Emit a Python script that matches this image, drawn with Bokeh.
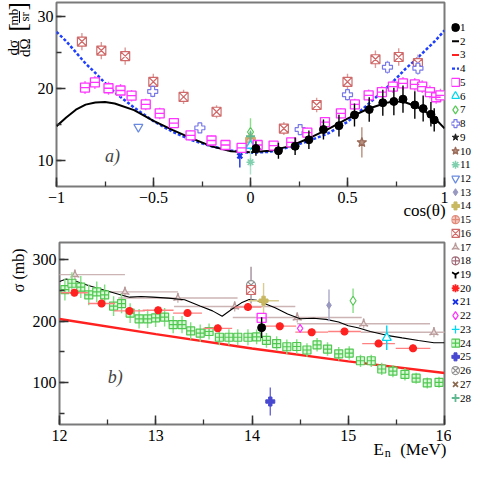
import math
from bokeh.plotting import figure
from bokeh.models import Range1d, Label, SingleIntervalTicker, FixedTicker, LinearAxis
from bokeh.layouts import row, column
from bokeh.embed import file_html
from bokeh.resources import INLINE
from bokeh.core.properties import value

FONT = "Liberation Serif"

# ---------------- a) angular distribution dsigma/dOmega vs cos(theta) ----------------
a_cos_1 = [0.028, 0.144, 0.230, 0.301, 0.376, 0.456, 0.536, 0.612, 0.682, 0.739, 0.786, 0.847, 0.890, 0.930, 0.947]
a_val_1 = [11.61, 11.29, 11.92, 12.82, 14.24, 14.78, 16.26, 17.02, 17.96, 18.14, 18.46, 17.65, 17.15, 16.35, 15.58]
a_err_1 = [1.0, 1.1, 1.2, 1.3, 1.4, 1.5, 1.6, 1.7, 1.8, 1.9, 1.9, 1.9, 1.8, 1.7, 1.6]

a_cos_5 = [-0.853, -0.802, -0.732, -0.670, -0.613, -0.540, -0.468, -0.395, -0.309, -0.201,
           -0.129, -0.046, 0.037, 0.119, 0.210, 0.293, 0.384, 0.466, 0.538, 0.609,
           0.677, 0.734, 0.786, 0.847, 0.885, 0.925, 0.957, 0.979]
a_val_5 = [20.07, 20.78, 19.97, 19.66, 18.94, 17.73, 16.48, 15.14, 13.44, 12.72,
           12.09, 11.69, 12.09, 12.01, 12.46, 13.80, 15.28, 16.48, 17.73, 18.99,
           19.44, 20.20, 20.64, 20.50, 20.20, 19.44, 18.72, 18.99]
a_err_5 = [0.9, 0.9, 0.9, 0.9, 0.8, 0.8, 0.8, 0.7, 0.7, 0.7,
           0.6, 0.6, 0.6, 0.6, 0.6, 0.7, 0.7, 0.7, 0.8, 0.8,
           0.8, 0.9, 0.9, 0.9, 0.9, 0.9, 0.9, 0.9]

a_cos_16 = [-0.869, -0.769, -0.646, -0.501, -0.345, -0.175, 0.0, 0.172, 0.341, 0.500, 0.644, 0.764, 0.863]
a_val_16 = [26.46, 25.21, 24.44, 20.87, 18.77, 16.71, 12.5, 14.38, 17.65, 20.87, 24.00, 24.31, 23.46]
a_err_16 = [1.2, 1.2, 1.2, 1.1, 1.0, 0.9, 0.8, 0.9, 1.0, 1.1, 1.2, 1.2, 1.2]

a_cos_8 = [-0.504, -0.261, 0.256, 0.500, 0.706, 0.863]
a_val_8 = [19.53, 14.47, 14.24, 19.08, 22.89, 22.75]
a_err_8 = [0.8, 0.7, 0.7, 0.8, 0.9, 0.9]

a_cos_6, a_val_6, a_err_6 = [0.0], [12.0], [0.6]
a_cos_7, a_val_7, a_err_7 = [0.0], [13.9], [1.9]
a_cos_10, a_val_10, a_err_10 = [0.574], [12.46], [2.1]
a_cos_11, a_val_11, a_err_11 = [0.0], [9.7], [1.7]
a_cos_12, a_val_12, a_err_12 = [-0.578], [14.6], [0.0]
a_cos_14, a_val_14, a_err_14 = [0.0], [12.9], [1.0]
a_cos_15, a_val_15, a_err_15 = [0.0], [12.5], [0.7]
a_cos_21, a_val_21, a_err_21 = [-0.055], [10.58], [1.6]
a_cos_28, a_val_28, a_err_28 = [0.0], [13.3], [0.8]

a_curve_cos = [-1.0, -0.95, -0.9, -0.85, -0.8, -0.75, -0.7, -0.6, -0.5, -0.4, -0.3, -0.2, -0.1, 0.0,
               0.1, 0.2, 0.3, 0.4, 0.5, 0.6, 0.7, 0.75, 0.8, 0.85, 0.9, 0.95, 1.0]
a_curve_2 = [14.7, 15.9, 17.0, 17.7, 18.0, 18.05, 17.85, 16.93, 15.45, 14.15, 12.98, 11.9, 11.23, 11.1,
             11.3, 11.9, 13.0, 14.3, 15.75, 17.06, 17.95, 18.15, 18.0, 17.5, 16.75, 15.8, 14.4]
a_curve_4 = [27.8, 26.5, 24.96, 23.4, 22.1, 20.7, 19.4, 17.29, 15.4, 13.9, 12.75, 11.9, 11.33, 11.0,
             11.15, 11.8, 12.65, 13.7, 15.3, 17.6, 20.0, 21.3, 22.7, 23.9, 25.2, 26.5, 28.0]

# ---------------- b) cross section vs neutron energy ----------------
b_curve_E = [12.0, 12.07, 12.17, 12.30, 12.47, 12.64, 12.73, 12.85, 12.97, 13.13, 13.30, 13.46, 13.59,
             13.69, 13.79, 13.89, 13.97, 14.05, 14.11, 14.24, 14.37, 14.50, 14.64, 14.77, 14.90, 15.0,
             15.10, 15.23, 15.40, 15.56, 15.73, 15.89, 16.0]
b_curve_2 = [265.0, 268.9, 265.1, 258.4, 250.7, 242.9, 239.3, 240.5, 239.3, 237.7, 235.1, 224.7, 216.9,
             208.2, 219.5, 230.0, 235.5, 234.0, 230.0, 222.2, 211.7, 204.0, 205.0, 203.0, 198.8, 192.6,
             189.5, 183.3, 177.0, 172.8, 168.6, 165.0, 165.0]
b_line_E = [12.0, 13.0, 14.0, 15.0, 16.0]
b_line_3 = [203.5, 179.0, 155.5, 134.5, 115.7]

b_E_24 = [12.056, 12.129, 12.221, 12.304, 12.387, 12.469, 12.562, 12.645, 12.734, 12.827,
          12.916, 12.999, 13.092, 13.181, 13.273, 13.363, 13.462, 13.554, 13.661, 13.760,
          13.852, 13.958, 14.048, 14.150, 14.256, 14.362, 14.465, 14.571, 14.676, 14.785,
          14.901, 15.010, 15.127, 15.239, 15.348, 15.464, 15.589, 15.705, 15.821, 15.943]
b_val_24 = [251.7, 262.0, 255.8, 242.9, 248.0, 242.9, 224.7, 228.9, 213.3, 204.0,
            204.0, 205.5, 206.6, 194.6, 194.6, 184.2, 180.6, 183.3, 173.9, 173.9,
            173.9, 173.9, 174.4, 168.7, 163.5, 158.4, 158.8, 153.1, 161.5, 154.6,
            146.9, 148.0, 135.5, 135.5, 122.1, 118.5, 113.3, 107.1, 99.3, 100.3]
b_err_24 = [18, 18, 18, 17, 17, 17, 16, 16, 16, 16,
            15, 15, 15, 14, 14, 14, 14, 13, 13, 13,
            13, 13, 12, 12, 12, 12, 12, 11, 11, 11,
            11, 11, 10, 10, 10, 10, 10, 9, 9, 9]

b_E_20 = [12.155, 12.437, 12.727, 13.025, 13.33, 13.644, 13.958, 14.289, 14.62, 14.961, 15.315, 15.673]
b_val_20 = [246.5, 228.9, 216.9, 218.0, 213.3, 188.4, 223.1, 192.0, 182.2, 183.3, 163.5, 155.8]
b_xerr_20 = [0.14, 0.14, 0.16, 0.16, 0.15, 0.15, 0.14, 0.17, 0.17, 0.17, 0.17, 0.18]
b_err_20 = [4, 4, 4, 4, 4, 4, 4, 4, 4, 4, 4, 4]

b_E_17 = [12.16, 12.68, 13.23, 13.82, 14.47, 15.16, 15.89]
b_val_17 = [276.0, 248.0, 238.0, 224.0, 206.0, 196.0, 182.0]
b_xerr_17 = [0.52, 0.55, 0.62, 0.63, 0.67, 0.69, 0.76]
b_err_17 = [8, 8, 8, 8, 8, 8, 8]

b_E_1, b_val_1, b_err_1 = [14.1], [189.5], [17]
b_E_5, b_val_5, b_err_5 = [14.1], [205.5], [6]
b_E_6, b_val_6, b_err_6 = [15.4], [173.0], [20]
b_E_7, b_val_7, b_err_7 = [15.05], [233.5], [20]
b_E_13, b_val_13, b_err_13 = [14.8], [226.0], [26]
b_E_14, b_val_14, b_err_14, b_xerr_14 = [14.12], [233.5], [29], [0.16]
b_E_16, b_val_16, b_err_16 = [13.99], [251.0], [8]
b_E_26, b_val_26, b_err_26 = [13.99], [259.0], [30]
b_E_22, b_val_22, b_err_22 = [14.5], [188.4], [4]
b_E_25, b_val_25, b_err_25 = [14.19], [69.0], [23]

legend_ids = list(range(1, 29))

# ---------------- styles ----------------
STYLE = {
    1: dict(marker="circle", size=8, line="black", fill="black", lw=1, err="black"),
    5: dict(marker="square", size=9, line="#ff33ff", fill="white", lw=1.3, err="#ff66ff", dash=True),
    6: dict(marker="triangle", size=9, line="#00d8f0", fill="white", lw=1.3, err="#00d8f0"),
    7: dict(marker="diamond", size=9, line="#55c855", fill="white", lw=1.2, err="#88dd88"),
    8: dict(marker="plus", size=10, line="#7878e8", fill="white", lw=1.2, err="#a8a8f0"),
    9: dict(marker="star", size=7, line="#222222", fill="#222222", lw=1, err="#222222"),
    10: dict(marker="star", size=10, line="#9a6a58", fill="#b89080", lw=1.2, err="#b89080"),
    11: dict(marker="asterisk", size=8, line="#80d0b0", fill=None, lw=1.5, err="#a8e0c8"),
    12: dict(marker="inverted_triangle", size=9, line="#6a8ae0", fill="white", lw=1.2, err="#6a8ae0"),
    13: dict(marker="diamond", size=7, line="#9898c0", fill="#9898c0", lw=1, err="#a8a8c8"),
    14: dict(marker="plus", size=9, line="#c8b860", fill="#c8b860", lw=1, err="#d8cc90"),
    15: dict(marker="circle_cross", size=8, line="#e08a7a", fill="#f4c8c0", lw=1.2, err="#e8a8a0"),
    16: dict(marker="square_x", size=9, line="#d06a6a", fill="white", lw=1.2, err="#dc9a9a"),
    17: dict(marker="triangle_pin", size=9, line="#b89a9a", fill="#eadada", lw=1.2, err="#cdb4b4"),
    18: dict(marker="circle_cross", size=9, line="#a06a78", fill="white", lw=1.2, err="#a08a90"),
    19: dict(marker="y", size=8, line="black", fill=None, lw=2.2, err="black"),
    20: dict(marker="asterisk", size=8, line="#ff2020", fill=None, lw=2.6, err="#ff8080"),
    21: dict(marker="x", size=7, line="#1830e8", fill=None, lw=2.2, err="#1830e8"),
    22: dict(marker="diamond", size=8, line="#ff33ff", fill="white", lw=1.2, err="#ff66ff"),
    23: dict(marker="cross", size=9, line="#00d8f0", fill=None, lw=1.3, err="#00d8f0"),
    24: dict(marker="square_cross", size=8, line="#50c850", fill="#d8f8d8", lw=1.2, err="#80e080"),
    25: dict(marker="plus", size=9, line="#4848d0", fill="#4848d0", lw=1, err="#6a6ad8"),
    26: dict(marker="circle_x", size=9, line="#909090", fill="white", lw=1.2, err="#a09098"),
    27: dict(marker="x", size=7, line="#8a6a50", fill=None, lw=2.6, err="#8a6a50"),
    28: dict(marker="cross", size=9, line="#60b890", fill=None, lw=2.0, err="#60b890"),
}
LINES = {2: dict(color="black", dash="solid", lw=2),
         3: dict(color="#ff2020", dash="solid", lw=2.5),
         4: dict(color="#1f3fff", dash="3 2", lw=2.5)}


def draw(p, k, xs, ys, yerr=None, xerr=None):
    st = STYLE[k]
    if yerr is not None:
        p.segment(x0=xs, x1=xs, y0=[y - e for y, e in zip(ys, yerr)], y1=[y + e for y, e in zip(ys, yerr)],
                  line_color=st["err"], line_width=1.4)
    if xerr is not None:
        p.segment(x0=[x - e for x, e in zip(xs, xerr)], x1=[x + e for x, e in zip(xs, xerr)], y0=ys, y1=ys,
                  line_color=st["err"], line_width=1.4)
    p.scatter(xs, ys, marker=st["marker"], size=st["size"], line_color=st["line"],
              fill_color=st["fill"], line_width=st["lw"])
    if st.get("dash"):
        p.scatter(xs, ys, marker="dash", size=st["size"], line_color=st["line"], line_width=st["lw"])


def base_fig(width, height, xr, yr, left, top, bottom, xtick, ytick):
    p = figure(width=width, height=height, x_range=xr, y_range=yr, toolbar_location=None,
               output_backend="svg", min_border_left=left, min_border_right=7,
               min_border_top=top, min_border_bottom=bottom)
    p.grid.visible = False
    p.outline_line_color = "#7a7a7a"
    p.outline_line_width = 2
    p.background_fill_color = "white"
    p.border_fill_color = "white"
    p.xaxis.ticker = SingleIntervalTicker(interval=xtick, num_minor_ticks=2)
    p.yaxis.ticker = SingleIntervalTicker(interval=ytick, num_minor_ticks=2)
    for ax in (p.xaxis[0], p.yaxis[0]):
        ax.axis_line_color = None
        ax.major_tick_in = 9
        ax.major_tick_out = 0
        ax.minor_tick_in = 5
        ax.minor_tick_out = 0
        ax.major_tick_line_color = "#333333"
        ax.minor_tick_line_color = "#333333"
        ax.major_tick_line_width = 1.5
        ax.minor_tick_line_width = 1.3
        ax.major_label_text_font = FONT
        ax.major_label_text_font_size = "16px"
        ax.major_label_text_color = "black"
    p.xaxis[0].major_label_standoff = 5
    p.yaxis[0].major_label_standoff = 3
    return p


def text_axis(p, ticks, texts, size, standoff):
    # a bare axis used only to write a title text below the frame at a chosen place
    ax = LinearAxis(ticker=FixedTicker(ticks=ticks, minor_ticks=[]),
                    major_label_overrides=dict(zip(ticks, texts)),
                    axis_line_color=None, major_tick_line_color=None, minor_tick_line_color=None,
                    major_label_standoff=standoff, major_label_text_font=FONT,
                    major_label_text_font_size=size, major_label_text_color="black")
    p.add_layout(ax, "below")


def side_fig(width, height):
    f = figure(width=width, height=height, x_range=Range1d(0, width), y_range=Range1d(height, 0),
               toolbar_location=None, output_backend="svg", min_border=0,
               x_axis_location=None, y_axis_location=None)
    f.grid.visible = False
    f.outline_line_color = None
    f.background_fill_color = "white"
    f.border_fill_color = "white"
    return f


ROT = math.pi / 2

# ---------------- panel a ----------------
p1 = base_fig(418, 226, Range1d(-1, 1), Range1d(6.33, 31.88), 23, 2, 40, 0.5, 10)
p1.xaxis[0].major_label_overrides = {-1: "\u22121", -0.5: "\u22120.5", 0: "0", 0.5: "0.5", 1: "1"}

p1.line(a_curve_cos, a_curve_4, line_color=LINES[4]["color"], line_width=LINES[4]["lw"], line_dash=LINES[4]["dash"])
p1.line(a_curve_cos, a_curve_2, line_color=LINES[2]["color"], line_width=LINES[2]["lw"])

draw(p1, 16, a_cos_16, a_val_16, a_err_16)
draw(p1, 8, a_cos_8, a_val_8, a_err_8)
draw(p1, 7, a_cos_7, a_val_7, a_err_7)
draw(p1, 11, a_cos_11, a_val_11, a_err_11)
draw(p1, 14, a_cos_14, a_val_14, a_err_14)
draw(p1, 15, a_cos_15, a_val_15, a_err_15)
draw(p1, 28, a_cos_28, a_val_28, a_err_28)
draw(p1, 6, a_cos_6, a_val_6, a_err_6)
draw(p1, 12, a_cos_12, a_val_12, a_err_12)
draw(p1, 10, a_cos_10, a_val_10, a_err_10)
draw(p1, 21, a_cos_21, a_val_21, a_err_21)
draw(p1, 5, a_cos_5, a_val_5, a_err_5)
draw(p1, 1, a_cos_1, a_val_1, a_err_1)

p1.add_layout(Label(x=-0.75, y=10.6, text="a)", text_align="left", text_baseline="middle",
                    text_font=FONT, text_font_size="18px", text_font_style="italic"))
text_axis(p1, [0.897], ["cos(\u03b8)"], "17px", -11)

# left title column for panel a: d sigma / d Omega [mb / sr]
lf1 = side_fig(33, 226)
lf1.text(x=[12.0, 24.5], y=[55.6, 55.6], text=["d\u03c3", "d\u03a9"], angle=ROT, text_align="center",
         text_baseline="middle", text_font=value(FONT), text_font_size="15px", text_color="black")
lf1.text(x=[13.2, 24.0], y=[17.9, 17.6], text=["mb", "sr"], angle=ROT, text_align="center",
         text_baseline="middle", text_font=value(FONT), text_font_size="13px", text_color="black")
lf1.segment(x0=[18.2, 19.0], x1=[18.2, 19.0], y0=[47.4, 10.6], y1=[63.8, 25.1], line_color="black", line_width=1)
lf1.text(x=[17.0, 17.0], y=[30.4, 4.6], text=["[", "]"], angle=ROT, text_align="center",
         text_baseline="middle", text_font=value(FONT), text_font_size="25px", text_color="black")

# ---------------- panel b ----------------
p2 = base_fig(422, 236, Range1d(12, 16), Range1d(31.5, 328.5), 27, 16, 36, 1, 100)

draw(p2, 17, b_E_17, b_val_17, b_err_17, b_xerr_17)
p2.line(b_curve_E, b_curve_2, line_color=LINES[2]["color"], line_width=1.1)
p2.line(b_line_E, b_line_3, line_color=LINES[3]["color"], line_width=LINES[3]["lw"])
draw(p2, 24, b_E_24, b_val_24, b_err_24)
draw(p2, 20, b_E_20, b_val_20, b_err_20, b_xerr_20)
draw(p2, 26, b_E_26, b_val_26, b_err_26)
draw(p2, 16, b_E_16, b_val_16, b_err_16)
draw(p2, 14, b_E_14, b_val_14, b_err_14, b_xerr_14)
draw(p2, 13, b_E_13, b_val_13, b_err_13)
draw(p2, 7, b_E_7, b_val_7, b_err_7)
draw(p2, 6, b_E_6, b_val_6, b_err_6)
draw(p2, 22, b_E_22, b_val_22, b_err_22)
draw(p2, 5, b_E_5, b_val_5, b_err_5)
draw(p2, 1, b_E_1, b_val_1, b_err_1)
draw(p2, 25, b_E_25, b_val_25, b_err_25)

p2.add_layout(Label(x=12.5, y=109, text="b)", text_align="left", text_baseline="middle",
                    text_font=FONT, text_font_size="18px", text_font_style="italic"))
text_axis(p2, [15.317, 15.78], ["E", "(MeV)"], "17px", -10)
text_axis(p2, [15.41], ["n"], "12px", -22)

# left title column for panel b
lf2 = side_fig(29, 236)
lf2.text(x=[18.4], y=[36.0], text=["\u03c3 (mb)"], angle=ROT, text_align="center",
         text_baseline="middle", text_font=value(FONT), text_font_size="16px", text_color="black")

# ---------------- legend column ----------------
leg = figure(width=24, height=462, x_range=Range1d(0, 24), y_range=Range1d(32.70, -0.972),
             toolbar_location=None, output_backend="svg", min_border=0,
             x_axis_location=None, y_axis_location=None)
leg.grid.visible = False
leg.outline_line_color = None
leg.background_fill_color = "white"
leg.border_fill_color = "white"

for k in legend_ids:
    if k in LINES:
        ln = LINES[k]
        leg.segment(x0=[0.5], x1=[7.5], y0=[k], y1=[k], line_color=ln["color"],
                    line_width=2 if k != 4 else 2.2, line_dash=ln["dash"] if k == 4 else "solid")
    else:
        st = STYLE[k]
        leg.scatter([4], [k], marker=st["marker"], size=min(st["size"], 8), line_color=st["line"],
                    fill_color=st["fill"], line_width=min(st["lw"], 1.8))
leg.text(x=[8.5] * len(legend_ids), y=legend_ids, text=[str(k) for k in legend_ids],
         text_font=value(FONT), text_font_size="11px", text_baseline="middle", text_color="black")

layout = row(column(row(lf1, p1), row(lf2, p2)), leg)
open("out.html", "w").write(file_html(layout, INLINE))
